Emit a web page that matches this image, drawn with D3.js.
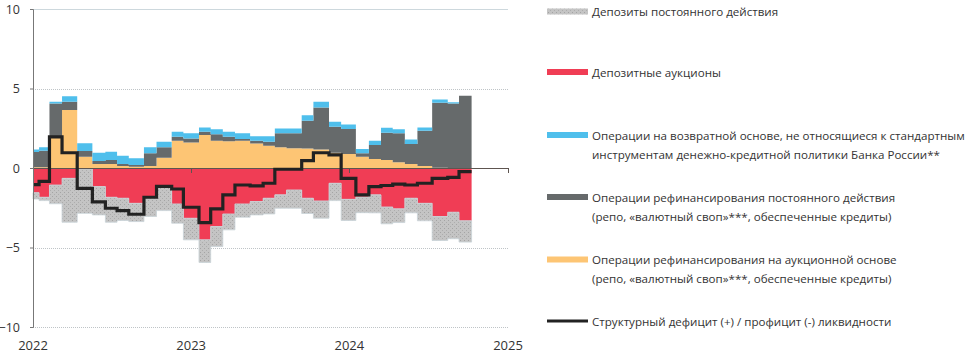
<!DOCTYPE html>
<html><head><meta charset="utf-8">
<script src="https://cdn.jsdelivr.net/npm/d3@7"></script>
<style>body{margin:0;background:#fff}svg{display:block}</style>
</head><body>
<svg id="chart" width="970" height="357"></svg>
<script>
// ---- data (trillion RUB, by reserve averaging period) ----
const periodStarts = ["2022-01-01","2022-01-15","2022-02-08","2022-03-09","2022-04-13","2022-05-18","2022-06-17","2022-07-14","2022-08-10","2022-09-14","2022-10-13","2022-11-17","2022-12-14","2023-01-19","2023-02-15","2023-03-15","2023-04-12","2023-05-17","2023-06-16","2023-07-13","2023-08-09","2023-09-13","2023-10-10","2023-11-15","2023-12-13","2024-01-16","2024-02-15","2024-03-14","2024-04-10","2024-05-08","2024-06-06","2024-07-10","2024-08-15","2024-09-10"];
const periodEnd = "2024-10-09";
const auctionRefi      = [0.05,0.05,1.96,3.64,0.71,0.25,0.25,0.13,0.08,0.13,0.65,1.71,1.61,2.07,1.71,1.69,1.71,1.54,1.40,1.30,1.25,1.23,1.17,0.96,0.88,0.71,0.56,0.50,0.36,0.25,0.13,0.02,0.00,0.00];
const standingRefi     = [0.95,1.04,2.10,0.52,0.36,0.19,0.25,0.12,0.11,0.79,0.65,0.26,0.25,0.21,0.41,0.28,0.11,0.17,0.25,0.88,0.93,1.74,2.64,1.63,1.57,0.21,0.88,1.72,1.82,1.26,2.21,4.08,4.05,4.54];
const otherOps         = [0.17,0.21,0.10,0.36,0.48,0.52,0.52,0.52,0.42,0.38,0.35,0.31,0.32,0.27,0.31,0.31,0.36,0.29,0.35,0.31,0.31,0.35,0.35,0.32,0.29,0.27,0.27,0.31,0.25,0.29,0.21,0.21,0.09,0.00];
const depositAuctions  = [-1.55,-1.84,-1.07,-0.65,-0.05,-1.17,-1.84,-1.90,-2.22,-1.80,-1.20,-2.26,-3.16,-4.52,-3.68,-2.89,-2.26,-2.11,-1.90,-1.69,-1.38,-1.90,-2.07,-0.96,-1.97,-1.82,-1.69,-2.45,-2.57,-1.90,-2.22,-3.05,-2.78,-3.32];
const standingDeposits = [-0.40,-0.21,-1.18,-2.76,-2.80,-1.78,-1.57,-1.40,-1.15,-1.25,-1.48,-1.21,-1.36,-1.42,-1.26,-1.00,-0.83,-0.84,-0.99,-0.84,-1.15,-0.96,-1.09,-1.09,-1.33,-0.99,-1.13,-1.06,-0.86,-0.92,-1.10,-1.51,-1.67,-1.34];
const structuralBalance = [-1.05,-0.84,1.96,0.96,-1.28,-2.13,-2.53,-2.68,-2.91,-1.84,-1.15,-1.32,-2.47,-3.43,-2.57,-1.69,-1.07,-1.13,-0.96,-0.08,-0.08,0.46,0.96,0.82,-0.65,-1.69,-1.17,-1.10,-1.02,-1.07,-0.96,-0.65,-0.59,-0.23];
const yTicks = [-10,-5,0,5,10];
const xTickYears = ["2022","2023","2024","2025"];
const legendItems = [
  {key:"standingDeposits", lines:["Депозиты постоянного действия"]},
  {key:"depositAuctions", lines:["Депозитные аукционы"]},
  {key:"otherOps", lines:["Операции на возвратной основе, не относящиеся к стандартным","инструментам денежно-кредитной политики Банка России**"]},
  {key:"standingRefi", lines:["Операции рефинансирования постоянного действия","(репо, «валютный своп»***, обеспеченные кредиты)"]},
  {key:"auctionRefi", lines:["Операции рефинансирования на аукционной основе","(репо, «валютный своп»***, обеспеченные кредиты)"]},
  {key:"structural", lines:["Структурный дефицит (+) / профицит (-) ликвидности"]}
];

// ---- styles ----
const colors = {auctionRefi:"#fdc574", standingRefi:"#666a6b", otherOps:"#4fbfec", depositAuctions:"#f03d55", standingDeposits:"url(#dots)", structural:"#222"};
const font = "'Open Sans', 'DejaVu Sans', sans-serif";

const svg = d3.select("#chart");
const defs = svg.append("defs");
const pat = defs.append("pattern").attr("id","dots").attr("patternUnits","userSpaceOnUse").attr("width",4).attr("height",4);
pat.append("rect").attr("width",4).attr("height",4).attr("fill","#c4c4c4");
pat.append("rect").attr("x",0).attr("y",0).attr("width",1).attr("height",1).attr("fill","#a4a4a4");
pat.append("rect").attr("x",2).attr("y",2).attr("width",1).attr("height",1).attr("fill","#adadad");

const parse = d3.timeParse("%Y-%m-%d");
const x = d3.scaleTime().domain([parse("2022-01-01"), parse("2025-01-01")]).range([33, 508]);
const y = d3.scaleLinear().domain([-10, 10]).range([327, 9]);

const rows = periodStarts.map((d,i)=>({date:parse(d), auctionRefi:auctionRefi[i], standingRefi:standingRefi[i], otherOps:otherOps[i], depositAuctions:depositAuctions[i], standingDeposits:standingDeposits[i], structural:structuralBalance[i]}));
rows.push(Object.assign({}, rows[rows.length-1], {date:parse(periodEnd)}));

// gridlines
const g = svg.append("g");
yTicks.filter(v=>v!==0).forEach(v=>{
  g.append("line").attr("x1",33).attr("x2",508).attr("y1",Math.round(y(v))+0.5).attr("y2",Math.round(y(v))+0.5)
   .attr("stroke", v===10 ? "#cdd8dd" : "#bfc4c7").attr("stroke-width",1)
   .attr("stroke-dasharray", v===10 ? null : "1,1");
});

// stacked areas
const keys = ["auctionRefi","standingRefi","otherOps","depositAuctions","standingDeposits"];
const series = d3.stack().keys(keys).offset(d3.stackOffsetDiverging)(rows);
const area = d3.area().curve(d3.curveStepAfter).x(d=>x(d.data.date)).y0(d=>y(d[0])).y1(d=>y(d[1]));
svg.append("g").selectAll("path").data(series).join("path")
  .attr("d", area).attr("fill", s=>colors[s.key])
  .attr("stroke", s=> s.key==="standingDeposits" ? "#c9d3d8" : "none").attr("stroke-width", 0.8);

// zero line
svg.append("line").attr("x1",33).attr("x2",508).attr("y1",Math.round(y(0))+0.5).attr("y2",Math.round(y(0))+0.5)
  .attr("stroke","#5e5550").attr("stroke-width",1);
// year ticks on zero line
svg.append("g").selectAll("line").data(xTickYears.slice(1)).join("line")
  .attr("x1",d=>Math.round(x(parse(d+"-01-01")))+0.5).attr("x2",d=>Math.round(x(parse(d+"-01-01")))+0.5)
  .attr("y1",y(0)).attr("y2",y(0)+5).attr("stroke","#5e5550");

// structural line
const line = d3.line().curve(d3.curveStepAfter).x(d=>x(d.date)).y(d=>y(d.structural));
svg.append("path").datum(rows).attr("d",line).attr("fill","none").attr("stroke",colors.structural).attr("stroke-width",3.2);

// y axis
const yAxis = svg.append("g").attr("transform","translate(33,0)")
  .call(d3.axisLeft(y).tickValues(yTicks).tickSize(3).tickPadding(10).tickFormat(d3.format("d")));
yAxis.select(".domain").attr("stroke","#777");
yAxis.selectAll(".tick line").attr("stroke","#777");
yAxis.selectAll("text").attr("font-family",font).attr("font-size",12.5).attr("fill","#333");

// x axis labels
svg.append("g").selectAll("text").data(xTickYears).join("text")
  .attr("x",d=>x(parse(d+"-01-01"))).attr("y",350).attr("text-anchor","middle")
  .attr("font-family",font).attr("font-size",13).attr("fill","#333").text(d=>d);

// legend
const legY = [11.5, 72, 135, 197, 259.5, 321];
const leg = svg.append("g");
legendItems.forEach((it,i)=>{
  const cy = legY[i];
  if (it.key==="structural") {
    leg.append("line").attr("x1",547).attr("x2",588).attr("y1",cy).attr("y2",cy).attr("stroke",colors.structural).attr("stroke-width",3);
  } else {
    leg.append("rect").attr("x",547).attr("y",cy-3).attr("width",41).attr("height",6).attr("fill",colors[it.key]);
  }
  it.lines.forEach((t,j)=>{
    leg.append("text").attr("x",592).attr("y",cy+4.5+j*19).attr("font-family",font).attr("font-size",11.6)
      .attr("fill","#333").text(t);
  });
});
</script>
</body></html>
